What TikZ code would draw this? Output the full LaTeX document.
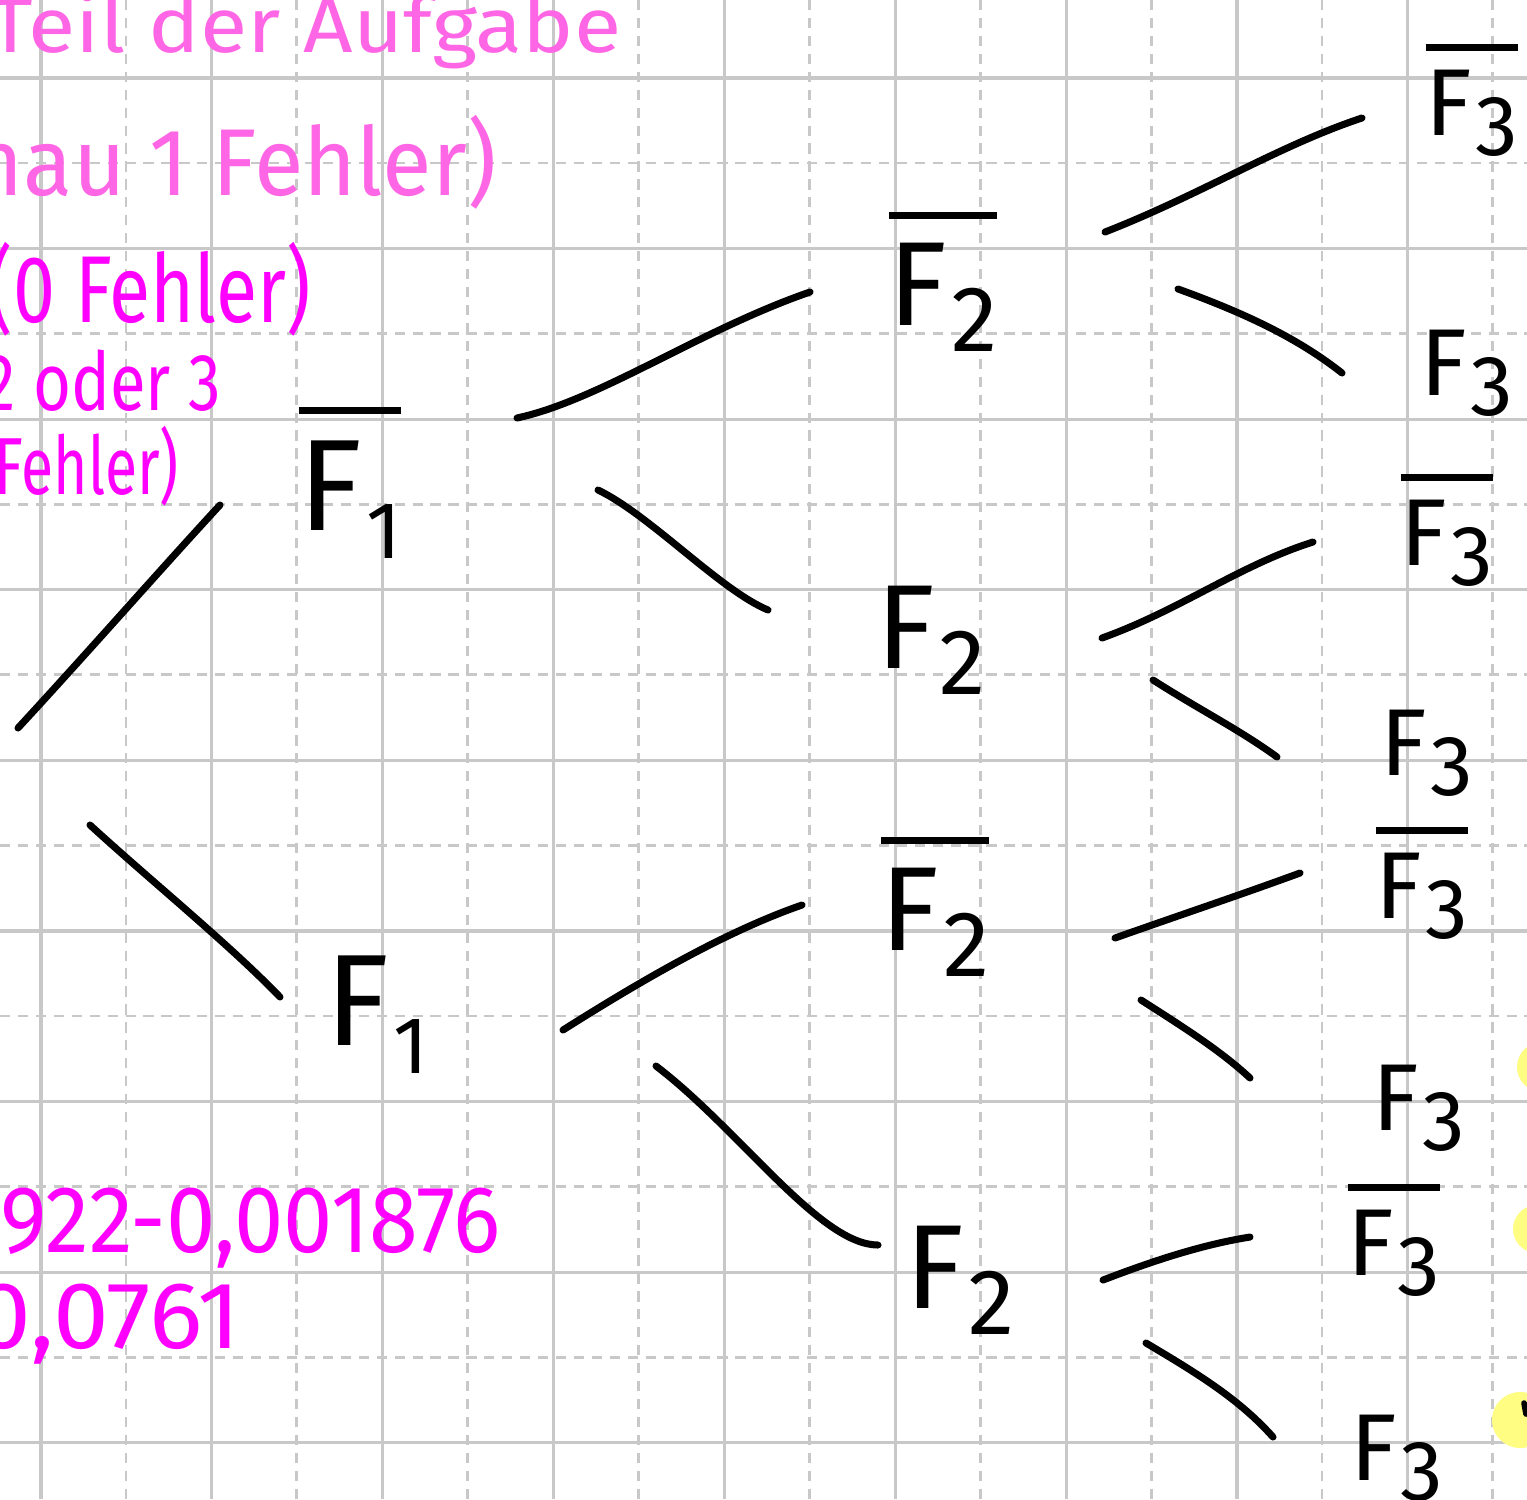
\documentclass[tikz,border=0pt]{standalone}
\usepackage{fontspec}
\setmainfont{Fira Sans}
\usepackage{graphicx}
\definecolor{gridc}{RGB}{200,200,200}
\definecolor{lpink}{RGB}{255,102,230}
\definecolor{mag}{RGB}{255,0,255}
\definecolor{hl}{RGB}{255,253,130}
\newcommand\hw[2]{\resizebox{#1}{\height}{#2}}
\newcommand\subsc{0.8}
\newcommand\Fsub[1]{F\kern0.03em\raisebox{-0.22em}{\scalebox{\subsc}{#1}}}
\newcommand\Fbar[1]{\leavevmode\vbox{\hrule height 2pt\kern0.2em\hbox{\Fsub{#1}}}}
\tikzset{
  gsolid/.style={draw=gridc, line width=0.9pt},
  gdash/.style={draw=gridc, line width=0.8pt, dash pattern=on 2.9pt off 2.2pt},
  edge/.style={line width=2pt, line cap=round, black},
  lvA/.style={inner sep=0pt, anchor=base west, font=\fontsize{37}{40}\selectfont\renewcommand\subsc{0.62}},
  lvB/.style={inner sep=0pt, anchor=base west, font=\fontsize{34}{38}\selectfont\renewcommand\subsc{0.78}},
  lvC/.style={inner sep=0pt, anchor=base west, font=\fontsize{27}{30}\selectfont\renewcommand\subsc{0.9}},
  pinktxt/.style={inner sep=0pt, text=lpink, font=\fontsize{27}{30}\selectfont},
  pinksm/.style={inner sep=0pt, text=lpink, font=\fontsize{22}{26}\selectfont},
  magtxt/.style={inner sep=0pt, text=mag, font=\fontsize{27}{30}\selectfont},
  magsm/.style={inner sep=0pt, text=mag, font=\fontsize{23}{26}\selectfont},
  spot/.style={fill=hl, draw=none}
}
\begin{document}
\begin{tikzpicture}[x=0.01cm, y=-0.01cm]
\useasboundingbox (0,0) rectangle (1527,1499);
\fill[white] (0,0) rectangle (1527,1499);
\clip (0,0) rectangle (1527,1499);
% grid
\foreach \i in {0,...,8} {
  \draw[gdash] ({126+170.85*\i},0) -- ({126+170.85*\i},1499);
  \draw[gdash] (0,{163+170.6*\i}) -- (1527,{163+170.6*\i});
}
\foreach \i in {0,...,8} {
  \draw[gsolid] ({41+170.85*\i},0) -- ({41+170.85*\i},1499);
  \draw[gsolid] (0,{78+170.6*\i}) -- (1527,{78+170.6*\i});
}
% highlighter spots
\fill[spot] (1542,1067) circle (25);
\fill[spot] (1537,1229) circle (24);
\fill[spot] (1520,1420) circle (28);
\draw[edge, line width=1.6pt] (1524,1403) -- (1526,1414);
% pink notes
\node[pinksm, anchor=base west] (t1) at (-12,52) {\hw{6.32cm}{Teil der Aufgabe}};
\node[pinktxt, anchor=base east] (t2) at (497,195) {\hw{6.2cm}{genau 1 Fehler)}};
\node[magtxt, anchor=base west] (t3) at (-12,322) {\hw{3.22cm}{(0 Fehler)}};
\node[magsm, anchor=base west] (t4) at (-38,410) {\hw{2.58cm}{(2 oder 3}};
\node[magsm, anchor=base west] (t5) at (-6,494) {\hw{1.84cm}{Fehler)}};
\node[magtxt, anchor=base west] (t6) at (0,1252) {\hw{5.0cm}{922-0,001876}};
\node[magtxt, anchor=base west] (t7) at (-25,1348) {\hw{2.65cm}{0,0761}};
% tree labels
\node[lvA] (F1b) at (298,530) {\Fbar{1}};
\node[lvA] (F1) at (325,1045) {\Fsub{1}};
\node[lvB] (F2ba) at (888,325) {\Fbar{2}};
\node[lvB] (F2a) at (876,668) {\Fsub{2}};
\node[lvB] (F2bb) at (880,950) {\Fbar{2}};
\node[lvB] (F2b) at (905,1308) {\Fsub{2}};
\node[lvC] (F3ba) at (1425,135) {\Fbar{3}};
\node[lvC] (F3a) at (1420,395) {\Fsub{3}};
\node[lvC] (F3bb) at (1400,565) {\Fbar{3}};
\node[lvC] (F3b) at (1380,775) {\Fsub{3}};
\node[lvC] (F3bc) at (1375,918) {\Fbar{3}};
\node[lvC] (F3c) at (1372,1130) {\Fsub{3}};
\node[lvC] (F3bd) at (1347,1275) {\Fbar{3}};
\node[lvC] (F3d) at (1350,1480) {\Fsub{3}};
% connector ends
\coordinate (r1) at (18,728);   \coordinate (e1) at (220,505);
\coordinate (r2) at (90,825);   \coordinate (e2) at (280,997);
\coordinate (s3) at (517,418);  \coordinate (e3) at (810,292);
\coordinate (s4) at (598,490);  \coordinate (e4) at (768,610);
\coordinate (s5) at (563,1030); \coordinate (e5) at (802,905);
\coordinate (s6) at (656,1066); \coordinate (e6) at (878,1245);
\coordinate (s7) at (1105,232); \coordinate (e7) at (1362,118);
\coordinate (s8) at (1178,289); \coordinate (e8) at (1342,373);
\coordinate (s9) at (1102,638); \coordinate (e9) at (1313,542);
\coordinate (s10) at (1153,680); \coordinate (e10) at (1277,757);
\coordinate (s11) at (1115,938); \coordinate (e11) at (1300,873);
\coordinate (s12) at (1141,1000); \coordinate (e12) at (1250,1078);
\coordinate (s13) at (1103,1280); \coordinate (e13) at (1250,1237);
\coordinate (s14) at (1146,1343); \coordinate (e14) at (1273,1437);
% connectors
\draw[edge] (r1) .. controls (90,650) and (160,570) .. (e1);
\draw[edge] (r2) .. controls (150,880) and (230,945) .. (e2);
\draw[edge] (s3) .. controls (600,400) and (700,330) .. (e3);
\draw[edge] (s4) .. controls (650,515) and (720,590) .. (e4);
\draw[edge] (s5) .. controls (650,975) and (730,930) .. (e5);
\draw[edge] (s6) .. controls (740,1130) and (820,1245) .. (e6);
\draw[edge] (s7) .. controls (1200,195) and (1280,145) .. (e7);
\draw[edge] (s8) .. controls (1250,315) and (1300,340) .. (e8);
\draw[edge] (s9) .. controls (1180,610) and (1240,565) .. (e9);
\draw[edge] (s10) .. controls (1200,710) and (1240,730) .. (e10);
\draw[edge] (s11) .. controls (1180,915) and (1240,895) .. (e11);
\draw[edge] (s12) .. controls (1180,1025) and (1220,1050) .. (e12);
\draw[edge] (s13) .. controls (1150,1262) and (1200,1245) .. (e13);
\draw[edge] (s14) .. controls (1200,1375) and (1240,1400) .. (e14);
\end{tikzpicture}
\end{document}
